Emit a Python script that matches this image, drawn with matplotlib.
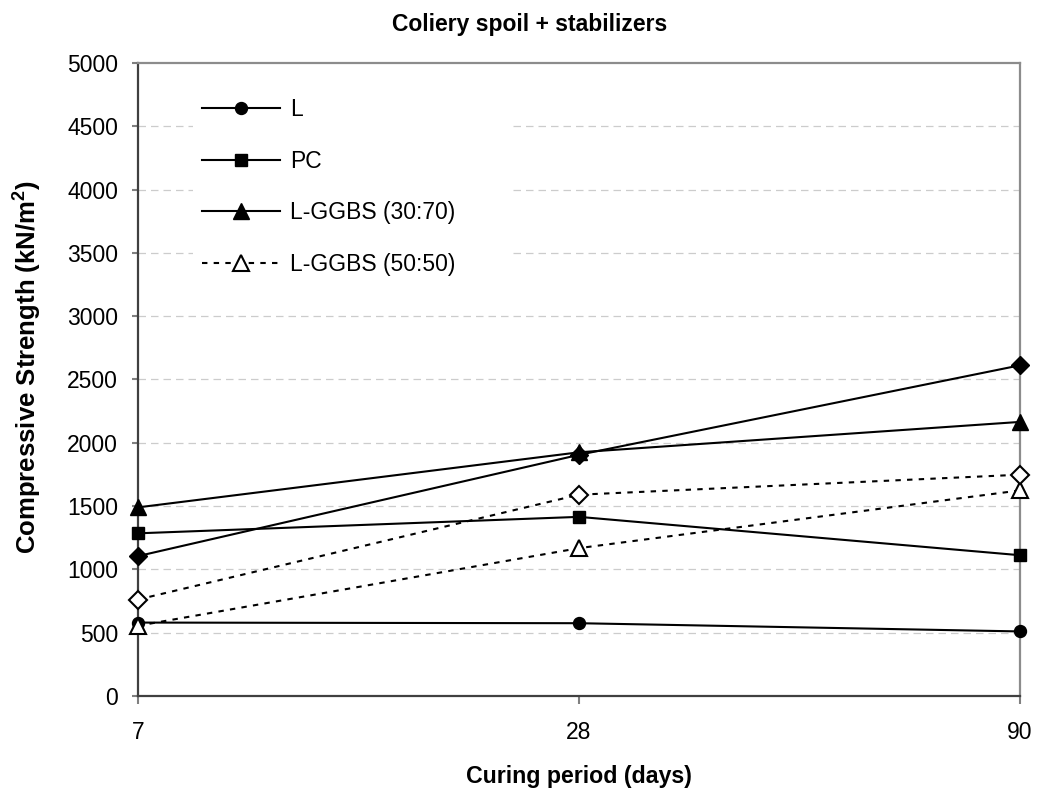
import matplotlib
matplotlib.use("Agg")
import matplotlib.pyplot as plt
from matplotlib.patches import Rectangle

plt.rcParams['font.family'] = ['Liberation Sans', 'DejaVu Sans']

days = ["7", "28", "90"]
L = [580, 575, 510]
PC = [1285, 1415, 1112]
LGGBS_30_70 = [1490, 1925, 2165]
LGGBS_50_50 = [555, 1168, 1624]
series5 = [1105, 1905, 2612]   # filled diamond (not in legend)
series6 = [762, 1590, 1748]    # open diamond (not in legend)
yticks = list(range(0, 5001, 500))

W, H = 1037, 791
fig = plt.figure(figsize=(W/100, H/100), dpi=100)
ax = fig.add_axes([138/W, 1-696/H, (1020-138)/W, (696-63)/H])

x = list(range(len(days)))
lw = 1.5
dash = (0, (2.6, 3))

common = dict(color='black', lw=lw, zorder=5, clip_on=False)
ax.plot(x, L, marker='o', ms=8.6, label='L', **common)
ax.plot(x, PC, marker='s', ms=8.6, label='PC', **common)
ax.plot(x, LGGBS_30_70, marker='^', ms=12.2, label='L-GGBS (30:70)', **common)
ax.plot(x, LGGBS_50_50, ls=dash, marker='^', ms=12.2,
        mfc='white', mec='black', mew=1.5, label='L-GGBS (50:50)', **common)
ax.plot(x, series5, marker='D', ms=8.7, label='_nolegend_', **common)
ax.plot(x, series6, ls=dash, marker='D', ms=8.7,
        mfc='white', mec='black', mew=1.5, label='_nolegend_', **common)

ax.set_xlim(0, len(days)-1)
ax.set_ylim(0, 5000)
ax.set_xticks(x)
ax.set_xticklabels(days)
ax.set_yticks(yticks)
ax.tick_params(axis='y', labelsize=16.5, length=4.3, width=1.5, color='#808080', pad=10, direction='out')
ax.tick_params(axis='x', labelsize=16.5, length=5.8, width=1.5, color='#808080', pad=12, direction='out')

for yv in yticks[1:-1]:
    ax.axhline(yv, color='#cccccc', lw=0.9, ls=(0, (6, 4)), zorder=1)

# white legend background area (covers gridlines like the original)
ax.add_patch(Rectangle(((193-138)/882, (696-285)/633), (510-193)/882, (285-80)/633,
                       transform=ax.transAxes, facecolor='white', edgecolor='none', zorder=2))

ax.spines['left'].set_color('#404040')
ax.spines['bottom'].set_color('#404040')
ax.spines['top'].set_color('#8c8c8c')
ax.spines['right'].set_color('#8c8c8c')
for s in ax.spines.values():
    s.set_linewidth(1.6)

fig.text(530/W, 1-24/H, 'Coliery spoil + stabilizers', fontsize=16.5, fontweight='bold',
         ha='center', va='center')
ax.set_xlabel('Curing period (days)', fontsize=16.7, fontweight='bold')
ax.xaxis.set_label_coords(0.5, (696-765)/633)
ax.set_ylabel('Compressive Strength (kN/m$^\\mathregular{2}$)', fontsize=18.5, fontweight='bold')
ax.yaxis.set_label_coords((43-138)/882, (696-367)/633)

leg = ax.legend(loc='upper left', bbox_to_anchor=(0.049, 0.977), fontsize=16.5,
                handlelength=3.4, labelspacing=1.25, handletextpad=0.44,
                frameon=False, borderpad=0.4, borderaxespad=0.5, markerscale=1.0)
leg.set_zorder(10)

fig.savefig('out.png', dpi=100, facecolor='white')
